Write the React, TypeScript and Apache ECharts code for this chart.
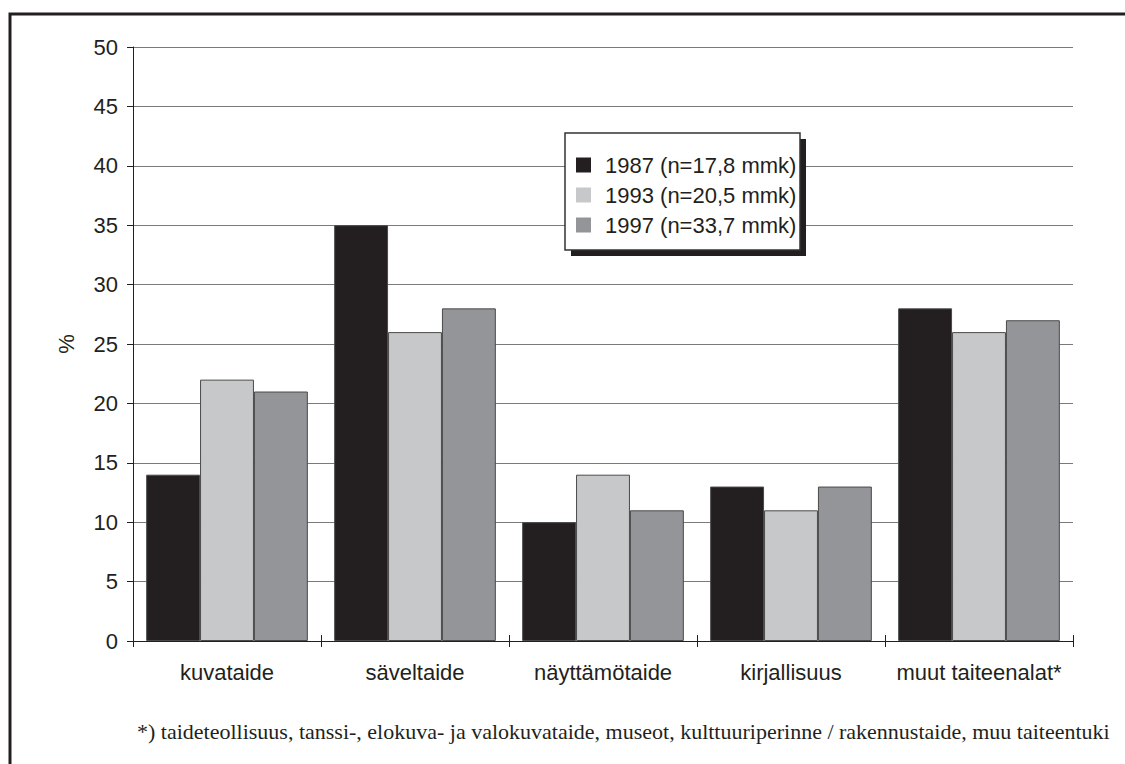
import React, { useEffect, useRef } from "react";
import * as echarts from "echarts";

const categories = ["kuvataide", "säveltaide", "näyttämötaide", "kirjallisuus", "muut taiteenalat*"];
const seriesNames = ["1987 (n=17,8 mmk)", "1993 (n=20,5 mmk)", "1997 (n=33,7 mmk)"];
const values1987 = [14, 35, 10, 13, 28];
const values1993 = [22, 26, 14, 11, 26];
const values1997 = [21, 28, 11, 13, 27];
const seriesColors = ["#231f20", "#c7c8ca", "#939598"];
const yTicks = { min: 0, max: 50, interval: 5 };
const footnote =
  "*) taideteollisuus, tanssi-, elokuva- ja valokuvataide, museot, kulttuuriperinne / rakennustaide, muu taiteentuki";

const SANS = "'Liberation Sans', Arial, Helvetica, sans-serif";
const SERIF = "'Liberation Serif', 'Times New Roman', serif";

export default function App() {
  const ref = useRef<HTMLDivElement>(null);
  useEffect(() => {
    document.body.style.margin = "0";
    if (!ref.current) return;
    const chart = echarts.init(ref.current, undefined, { renderer: "svg" });
    const allValues = [values1987, values1993, values1997];
    chart.setOption({
      animation: false,
      backgroundColor: "#ffffff",
      textStyle: { fontFamily: SANS, color: "#231f20" },
      grid: { left: 133, right: 52, top: 47, bottom: 123, containLabel: false },
      legend: {
        orient: "vertical",
        left: 576,
        top: 154,
        padding: 0,
        z: 10,
        itemWidth: 15,
        itemHeight: 15,
        itemGap: 8,
        icon: "rect",
        itemStyle: { borderWidth: 0 },
        data: seriesNames,
        textStyle: { fontSize: 22, fontFamily: SANS, color: "#231f20", padding: [0, 0, 0, 9] },
      },
      xAxis: [
        {
          type: "category",
          data: categories,
          position: "bottom",
          axisLine: { lineStyle: { color: "#231f20", width: 1 } },
          axisTick: { show: true, length: 6, alignWithLabel: false, lineStyle: { color: "#231f20" } },
          axisLabel: { interval: 0, fontSize: 22, fontFamily: SANS, color: "#231f20", margin: 20 },
          splitLine: { show: false },
        },
        {
          type: "category",
          data: categories,
          position: "bottom",
          axisLine: { show: false },
          axisTick: { show: true, inside: true, length: 6, lineStyle: { color: "#231f20" } },
          axisLabel: { show: false },
          splitLine: { show: false },
        },
      ],
      yAxis: {
        type: "value",
        min: yTicks.min,
        max: yTicks.max,
        interval: yTicks.interval,
        name: "%",
        nameLocation: "middle",
        nameGap: 56,
        nameRotate: 90,
        nameTextStyle: { fontSize: 22, fontFamily: SANS, color: "#231f20" },
        axisLine: { show: true, lineStyle: { color: "#231f20", width: 1 } },
        axisTick: { show: true, length: 6, lineStyle: { color: "#231f20" } },
        axisLabel: { fontSize: 22, fontFamily: SANS, color: "#231f20", margin: 15 },
        splitLine: { show: true, lineStyle: { color: "#7a7a7a", width: 1 } },
      },
      series: seriesNames.map((name, i) => ({
        name,
        type: "bar",
        xAxisIndex: 0,
        data: allValues[i],
        barGap: "0%",
        barCategoryGap: "14%",
        itemStyle: { color: seriesColors[i], borderColor: "#4a4a4a", borderWidth: 1 },
      })),
      graphic: [
        {
          type: "polyline",
          z: 1,
          shape: { points: [[10, 764], [10, 14], [1125, 14]] },
          style: { stroke: "#231f20", lineWidth: 3, fill: "none" },
        },
        {
          type: "rect",
          z: 3,
          shape: { x: 571, y: 139, width: 235, height: 117 },
          style: { fill: "#231f20" },
        },
        {
          type: "rect",
          z: 4,
          shape: { x: 565, y: 133, width: 235, height: 117 },
          style: { fill: "#ffffff", stroke: "#333333", lineWidth: 1.5 },
        },
        {
          type: "text",
          z: 4,
          x: 137,
          y: 731,
          style: {
            text: footnote,
            font: `22px ${SERIF}`,
            fill: "#231f20",
            verticalAlign: "middle",
          },
        },
      ],
    });
    return () => chart.dispose();
  }, []);
  return <div ref={ref} style={{ width: 1125, height: 764 }} />;
}
